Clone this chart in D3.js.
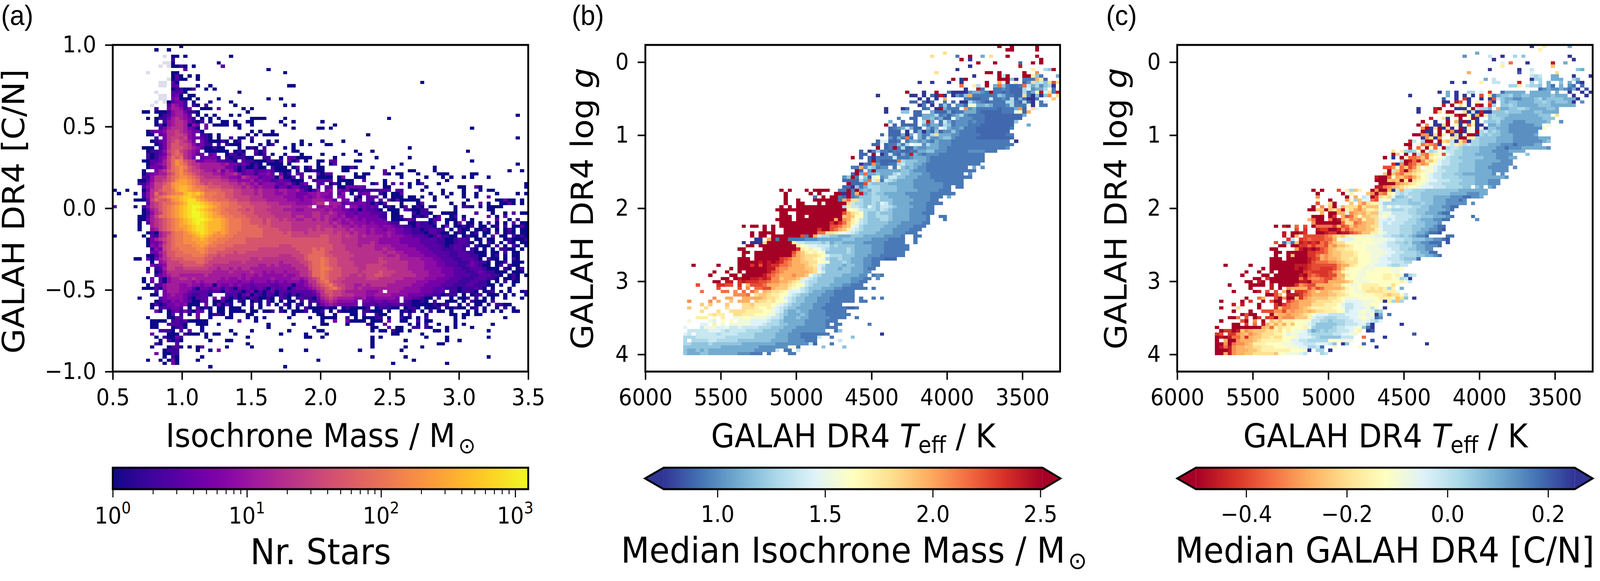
<!DOCTYPE html>
<html>
<head>
<meta charset="utf-8">
<title>GALAH DR4 isochrone mass and [C/N]</title>
<script src="https://cdn.jsdelivr.net/npm/d3@7"></script>
<style>
    html, body { margin: 0; padding: 0; background: #fff; width: 100%; height: 100%; overflow: hidden; }
    svg { display: block; width: 100vw; height: 100vh; }
    text { font-family: "DejaVu Sans", sans-serif; fill: #000; }
    .panelTag { font-family: "Liberation Sans", sans-serif; font-size: 72px; }
    .tickText { font-size: 58px; }
    .axisTitle { font-size: 83px; }
    .barTitle { font-size: 90px; }
</style>
</head>
<body>
<script>
//tick labels
var massTicks = [0.5, 1.0, 1.5, 2.0, 2.5, 3.0, 3.5],
    cnTicks = [-1.0, -0.5, 0.0, 0.5, 1.0],
    teffTicks = [6000, 5500, 5000, 4500, 4000, 3500],
    loggTicks = [0, 1, 2, 3, 4],
    countTicks = [1, 10, 100, 1000],
    barMassTicks = [1.0, 1.5, 2.0, 2.5],
    barCnTicks = [-0.4, -0.2, 0.0, 0.2];

//value read for each cell code
var countCodes = "0123456789abcdefg",
    countLevels = [1, 2, 3, 5, 8, 12, 20, 30, 50, 80, 120, 180, 270, 400, 600, 850, 1200],
    valueCodes = "abcdefghijklmnopqrstu",
    massLevels = [0.75, 0.89, 0.94, 1.01, 1.10, 1.19, 1.28, 1.37, 1.45, 1.54, 1.63, 1.72, 1.81, 1.89, 1.98, 2.07, 2.16, 2.25, 2.33, 2.42, 2.51],
    cnLevels = [0.25, 0.21, 0.18, 0.14, 0.10, 0.06, 0.03, -0.01, -0.05, -0.09, -0.12, -0.16, -0.20, -0.24, -0.27, -0.31, -0.35, -0.39, -0.42, -0.46, -0.50];

//histogram bins
var massBins = {start: 0.5, step: 0.03},
    cnBins = {start: 1.0, step: -0.02},
    teffBins = {start: 5750, step: -27.78},
    loggBins = {start: -0.235, step: 0.0447};

//each row is read left to right as pairs of start column and cell codes, "." is an empty cell
var countRows = [
"16 0",
"10 0 13 0",
"",
"14 00 17 0 28 0",
"14 1",
"14 0 25 0",
"14 0010 19 0 26 2",
"17 2 37 0",
"14 00 41 0",
"14 020 18 0 20 0",
"14 0200 20 0",
"14 20 74 0",
"14 22 20 0 23 0 42 00",
"14 011001 22 0 24 0",
"14 2220 30 0",
"14 230 18 00",
"14 34000 20 0 25 0 37 0 40 0",
"13 0233 17 1 19 0 23 0 28 0",
"13 25431 19 10 22 1 29 0 41 0 43 0",
"10 1 13 355413 21 000 25 2 31 0 33 0",
"7 00 10 00014553110 32 0",
"11 01245542 20 0 22 0 24 0 28 0 30 0 97 0",
"8 0 10 0113565431 21 0 23 0 25 0 33 0000 41 0 66 0",
"10 0 12 1456653101 23 0 26 00 29 0 32 00 40 0 43 0 50 0",
"10 02045665043 22 3 24 0000 29 00 33 0 41 0 53 0",
"11 1356665320 22 3 30 0 43 0 49 00 52 0 86 0",
"8 0233466765433 21 0 33 0 35 0 38 0",
"8 00 11 236677643 21 110 25 0 32 0 34 0 36 0000 61 0",
"10 1 12 367767433210 25 0 28 1 30 00 33 1 97 0",
"9 01236787653 21 3100010 29 01 33 0 37 0 39 0 45 0 50 0 55 0",
"10 01368877642 21 311 25 1 27 1000 35 0 37 01 43 0 45 0 47 0 51 00",
"7 000 11 1368887654200100 30 0 32 01 34 0 36 1 41 0 43 0 71 0",
"8 0112478976543 22 000000 29 010 34 20 36 2 43 00 58 0 62 0 85 0",
"8 10123689865423 23 23 27 02101 34 101 38 0 41 0 45 0 50 0 55 0 59 0",
"8 101347989653 21 2333 25 1 27 10111 32 00 36 11 40 0 42 220000 53 0 63 0 71 0",
"7 002235 13 79ba8763 21 34442211 29 0 31 2110001 38 10 40 1 42 202 46 0 49 00 52 22 58 00 86 0",
"8 0234579ba976 20 65 22 55554 27 533 30 232 33 010 37 0000 42 0 49 0 52 0 53 2 69 0 97 0",
"8 03324 13 79aba87 20 655 23 5555 27 332 30 02 32 00 34 2 35 00 38 1000 43 0 44 2 46 0 47 2 49 00 55 00 57 20 62 0 67 0 77 0",
"7 0 10 35689ab 17 98 19 77 21 6554 25 63 27 5420 31 2331 35 2232 39 0000 44 0 46 00 48 1 49 00 55 00 65 2 71 00 77 0 95 0 98 0",
"7 0234557 14 8aba98 20 7 21 6665 25 54 27 5564 31 2331 35 3342 40 301 44 22 49 2 50 0 51 22 58 0 60 00 65 20 68 00 73 0 78 000 86 00",
"7 114666 13 89abb 18 a 19 98 21 7666 25 65 27 54436 32 5442 36 333 39 05 41 00 43 2 45 2 47 2 49 0000 54 03 58 000 69 0 75 0 79 0 81 0 84 0 86 0 90 0",
"6 0024667 13 89bcc 18 ba9 21 7777 25 7665 29 5444 33 5343 37 31 39 23 41 21 43 000 48 1 49 2222 54 00 56 00 60 2 65 0 73 0 80 0",
"6 1135778 13 9bcc 17 cba 20 9 21 8787 25 7776 29 6565 33 45 35 3444 39 3234 43 102 46 3 49 22 52 0 53 2 54 0 56 00 62 02 65 0 67 2 69 2 71 0 73 02 78 0 99 0",
"7 245779 13 9bcd 17 dcb 20 aa9 23 888 26 7776 30 6 31 565 34 454 37 4 38 4133 42 133 45 110 49 1 51 22 54 00 56 3333 60 2 65 00 71 0 75 0 83 00 87 20 99 0",
"0 0 3 0 7 036 10 7899 14 acd 17 dcb 20 ba99 24 9988 28 8776 32 6656 36 5554 40 5544 44 531 47 01 49 4 51 34 54 3230011 61 111222 68 21 74 0 79 0 84 0 88 0 90 00",
"1 0 5 0 7 1 8 469 11 789ab 16 bdede 21 caaa 25 9988 29 7766 33 6565 37 5544 41 5443 45 3344 49 5 50 443 54 24 57 0 59 233 64 1 65 0 67 000 69 2 76 0 79 0 81 0 84 0 87 0 92 0 97 0 99 0",
"7 1 8 4689 12 abc 15 cdeed 20 cbaa 24 9998 28 8777 32 7666 36 5555 40 5444 44 3343 48 4 49 543 52 3 54 43 58 2 59 0 61 222 65 0 67 000 71 00 74 0 77 0 80 0 84 0 87 0 90 2",
"5 00 7 0 8 379 11 889 14 bcdef 19 fdcb 23 aa99 27 9887 31 7766 35 6655 39 5554 43 4434 47 45 49 5544 53 2 55 33 58 0 59 3 61 22 64 2 66 2 67 0 68 2 69 00000 77 0 85 0 92 0 93 020 96 0 98 0",
"8 2678 12 99ab 16 cdfff 21 edcb 25 baa9 29 9888 33 7777 37 6665 41 5554 45 4445 49 66 52 55 54 5 55 2 56 3333 60 3 61 2 62 0 63 2 64 0 65 2 69 0 73 0 74 2 81 0 84 0 88 2 90 0 93 0020 98 0",
"0 2 5 0 7 14678 12 9abc 16 defg 20 gfed 24 cbaa 28 9998 32 8877 36 7766 40 6665 44 5556 49 4454543.4423232.010.02.010.00 82 0 84 110 88 0 90 0000",
"7 0 8 2568 12 9abc 16 defg 20 fedc 24 bba9 28 9988 32 7877 36 7666 40 6555 44 44555 49 5545443323032210.000.210011 82 0 90 00",
"7 0 8 14678 12 9abc 16 defg 20 gfed 24 cbaa 28 9998 32 8877 36 7766 40 6665 44 55556 49 65565443323332221.00...10110 79 0000 87 2 91 0 94 0 96 2 98 00",
"6 00 8 2579 12 9abc 16 defg 20 gfed 24 ccba 28 a999 32 8887 36 7776 40 6665 44 66556 49 65655453343333311.001..0101.02..01 84 0 90 2 92 0 94 2",
"6 0 7 0 8 3 9 5678 13 9abc 17 defg 21 gfed 25 dcba 29 aa99 33 8887 37 8776 41 7665 45 5665 49 65654545443433332.000121...022.000.2.0 92 2 95 0 97 1",
"6 0 8 1 9 5678 13 9abc 17 defg 21 fedd 25 dcba 29 aa99 33 8887 37 8777 41 7766 45 6666 49 66656544544434333211..0021101..0.03.00 88 0 90 1.0 94 0 96 2 98 00",
"6 0 9 5678 13 9abc 17 cdef 21 fedd 25 dcba 29 aa99 33 9988 37 8777 41 7766 45 6666 49 76665655454544434432211021110.03.00101.00.01.1.0020",
"6 0 9 4578 13 9abb 17 cdef 21 fedd 25 dcba 29 aa99 33 9998 37 8887 41 7766 45 6676 49 7677666565554544344332211012211.0.100.0010.0.020.00",
"8 0 9 1 10 0 11 567 14 9aab 18 cdef 22 edcb 26 cbaa 30 9999 34 9988 38 8887 42 8777 46 677 49 77776766565545444543322111022100.010.01.00.1.010.00",
"0 0 7 0 9 2 10 1 11 568 14 9aab 18 bcde 22 dcbb 26 baa9 30 9999 34 9988 38 8888 42 8777 46 777 49 7887776766565555454443322210131100.0100.0.2.00.1010",
"8 0 9 3 10 5 11 678 14 9aab 18 bccd 22 cbba 26 aa99 30 9988 34 8888 38 8888 42 8888 46 888 49 888777666655555444443333322221 79 1001221.00.00..010001",
"8 0 9 3 10 3 11 468 14 9aab 18 bbcc 22 cbaa 26 a999 30 9988 34 8888 38 8888 42 8888 46 888 49 888777666655565444443333322221 79 10012210.0.10.0.10.00",
"8 0 9 4 10 3 11 578 14 9aaa 18 abbc 22 baa9 26 9998 30 8888 34 8888 38 8877 42 7888 46 888 49 888877766656665555444433332222 79 1012211.1000.1.0.20.0",
"9 1 10 4 11 3 12 78 14 99aa 18 aabb 22 a999 26 9888 30 8888 34 8777 38 7777 42 7788 46 889 49 8988777666666655655444443332221 80 11221.10.0.0.1100.0",
"9 3 10 3 11 5 12 68 14 899a 18 aaab 22 a998 26 8887 30 8877 34 7777 38 7777 42 7778 46 889 49 99877777666666665665544443332222 81 112211000.00.1.00",
"8 00 10 2 11 4 12 68 14 8999 18 9aaa 22 9887 26 8777 30 7777 34 7777 38 7766 42 6777 46 899 49 99887777766666666556554444333222 81 112221100.01.0.00",
"5 00 8 2 9 0 10 3 11 5 12 67 14 8889 18 9999 22 8877 26 7777 30 7776 34 6766 38 6666 42 6677 46 899 49 9a98877766666667666655555444332 80 221122210.100.0.10",
"9 0 11 4 12 57 14 7788 18 8899 22 8777 26 7766 30 6766 34 6666 38 6656 42 6667 46 789 49 9a988777766666677666665555444332 81 2211132110.001.000",
"9 32 11 3 12 47 14 7778 18 8888 22 7766 26 6666 30 6666 34 6556 38 5655 42 5666 46 789 49 9a9887777666777766666655554443 79 322211232100.01.100",
"8 0 10 1 11 2 12 57 14 7667 18 7777 22 7665 26 6656 30 5665 34 5555 38 5555 42 5566 46 689 49 9aa98877776677777666665555444433 81 322112221000.10.01",
"8 2 10 0 11 1 12 46 14 6666 18 6666 22 6655 26 5565 30 5556 34 5545 38 4554 42 5556 46 679 49 9a988877776777787776666555544433 81 32221123211000.000",
"10 1 11 3 12 45 14 6655 18 5555 22 6555 26 5555 30 5455 34 4544 38 4445 42 4456 46 679 49 9a988877667677887766666655544443 81 3222211222110.010.0",
"7 0 9 3 11 2 12 0 13 4556 17 6565 21 5555 25 5454 29 4545 33 4444 37 4544 41 4455 45 4567 49 8a988776666677766666655555444333 81 222111222110.0010.",
"7 0 9 2 11 2 12 0 13 4555 17 5545 21 4555 25 4444 29 4344 33 3444 37 3434 41 3444 45 3466 49 89a87766666666666665555544433332 81 2211122110.0.1.00",
"8 0 10 1 11 2 12 4 13 5554 17 4544 21 3440 25 4334 29 3433 33 2333 37 3223 41 3303 45 3456 49 789a8776655656666555555444333322 81 21112211100.0..0..",
"7 000 10 2 11 0 12 4 13 5554 17 4420 21 3323 25 3132 29 0323 33 2232 37 0322 41 3023 45 3345 49 6789a876656555555555544443332221 81 110111210.0...0..",
"10 1 12 3 13 5554 17 4322 21 2212 25 2032 29 2202 33 3020 37 2302 41 2122 45 2223 49 5688776555554445.55544444333222.1101110.011.0.0..01",
"9 00 12 3 13 4544 17 3211 21 220 27 2120 31 2302 35 1021 39 0210 43 2012 47 22 49 4678776665554455554444333322110111.0.011.000.0.0..0",
"6 0 11 2 12 3 13 4444 17 3102 21 22 24 3 26 3 27 1 28 0201 32 0210 36 0 37 1 38 0 40 21 42 0 44 1 45 21 47 10 49 35676555544533444443.3322100.1..0.001.1.0.0..0...0.",
"10 0 11 1 12 3 13 2434 17 3200 21 22 24 0 25 0 26 2 27 0 28 0 30 1 31 0 33 0 34 1 35 0 37 1 38 0 40 0 42 00 45 1 47 11 49 2456544443.332332333.210010.1..000.0.1000.1.......",
"9 0 10 2 11 0 12 1 13 3343 17 400 20 0 22 3 24 0 25 3 26 0 27 2 28 0 31 0 33 1 35 0 37 1 39 0 41 1 42 0 44 1 45 0 47 1 49 1345433333.222122122211000001011..0.1.00.0.1100.....",
"9 0 11 122 14 332 18 0 20 2 21 0 22 1 23 0 25 00 28 00 30 0 33 0 35 0 40 0 42 0 44 0 46 1 47 0 48 0 49 00100.0100001.011100.0110.0001.00100.01.0..0.1.0...",
"10 3 11 0 13 0 14 2 15 3 16 1 17 3 18 1 19 0 20 3 21 2 23 0 25 0 26 0 28 0 29 0 30 0 31 0 33 0 34 0 36 0 37 0 38 1 40 1 41 0 43 0 44 0 45 0 46 1 48 0 49 01.0.10000.11000.0..0101.0.1.00.0...0.0.0.0.0..00.",
"13 0 14 2 16 1 18 0 20 3 23 0 24 110 28 0 32 00 43 0 49 0 50 0 53 0 57 00 60 1 63 100 69 0 71 1 75 0 81 0 82 0 84 00 87 0 88 0",
"8 0 13 0 14 0 15 2 16 2 20 3 23 0 27 00 32 0 34 0 36 0 42 0 47 0 50 0000 56 1 58 0 60 00 62 011 66 0 69 100 73 0 75 1 82 0 84 0 94 0",
"9 0000 14 1212 18 0 19 0000 30 2 34 0 50 0 53 3 56 3 57 0000 62 000 66 3 69 00 73 1 75 00 82 0",
"9 00 13 1 14 2 15 2 16 1 17 0 20 000 25 0 37 0 43 0 50 00 56 0 61 1 62 0 65 2 71 0 73 0 75 1 78 0 82 0 84 0 91 0",
"9 00 14 01 16 2 17 0 21 0 37 0 48 0 62 00 66 2 68 00 72 11 75 10 80 0 82 0 86 0",
"11 1110 16 2 18 2 21 0 28 0 33 0 42 0 49 00 62 0 64 00 67 100 71 0 77 00 80 0 90 0",
"9 3 13 00 15 0 17 1 18 000 22 0 24 00 29 0 40 0 46 0 51 0 67 00 74 0",
"10 0 12 100 15 3 16 1 22 0 32 0 46 00 50 0 62 0 64 0 75 0 80 0 90 0",
"11 0 13 10 15 1 16 0 23 0 27 00 62 0 70 0 80 0 83 0",
"10 10 15 2 32 0 62 0 78 00",
"9 0 13 012 16 0 18 0 20 02 27 0 33 0 62 0 70 0 74 0",
"12 0111 20 0 23 0 25 3 40 0 46 0 59 0 69 0",
"10 3 12 0011",
"12 0 14 10 21 0 62 0 70 0 90 0",
"8 0 11 0 13 030 20 0 49 0 72 0",
"12 0 14 30 67 0 80 0",
"23 0 41 0"
];

//faint patch at the top of the first panel, [column, row]
var faintCells = [[12,3],[12,5],[13,5],[11,6],[13,6],[8,8],[13,10],[11,11],[12,11],[11,12],[12,12],[10,14],[11,15],[12,15],[11,16],[12,16],[10,17],[12,17],[9,18]];

var massRows = [
"75 u 78 u 84 u",
"77 uu 84 u",
"62 m",
"59 m 65 c 68 u 71 e 73 m 77 u 84 u",
"66 u 68 a 85 u",
"70 u 74 u 80 b 83 u 85 u",
"68 a 80 t",
"65 a 83 l 86 gf 88 u",
"60 m 72 uu 75 u 81 u 84 p",
"69 a 75 u 76 h 77 u 81 uu 83 l 84 f 85 c 89 e",
"64 u 66 a 67 u 75 uuu 78 f 79 a 81 ccc 84 o 85 l 86 b",
"56 a 59 a 63 a 66 a 72 u 75 o 77 u 79 l 81 b 82 d 83 m 84 g 85 h 86 f 87 m 88 r 89 m",
"66 q 69 l 70 g 72 u 74 e 75 q 76 f 77 cbbc 81 q 82 h 83 e 84 g 85 d 86 f 87 g 88 a",
"67 a 70 t 71 c 74 ccdcbbb 81 g 82 i 83 d 84 e 85 e 86 g 88 c",
"53 u 57 a 60 u 63 c 64 aaaa 68 deedc 73 u 74 ccbcbbb 81 g 82 c 83 e 84 k 85 t 86 i 87 m 88 c 89 t",
"46 a 54 aa 57 a 59 ba 61 t 62 a 64 a 65 d 66 b 67 f 68 o 69 cccccc 75 fe 77 ccbb 81 m 82 c 83 a 84 f 85 a 86 f 87 p 89 m",
"56 a 58 a 60 a 62 o 67 ccbbcchccdcgbebaac 88 n",
"54 bb 57 bab 62 c 64 b 66 aa 68 gedcbccccggcbgba 85 c 86 i",
"56 a 57 c 59 a 61 bfc 65 ddb 68 jjeefecccdgcccja 85 cc",
"48 a 52 ab 57 bc 60 a 61 u 62 e 63 ccc 67 p 68 decccccbccc 79 epb 83 mi",
"48 a 52 ff 55 bb 59 e 60 bbbe 64 bcc 67 eee 70 cbbbbbccc 79 ik 81 b 82 o",
"55 bb 57 eee 60 gcdbdeg 67 dccccbbbbbbbbb 81 e",
"51 c 54 bb 57 eef 60 debb 65 edddcccbbbbbbbbb",
"49 e 52 b 55 b 57 gte 61 che 64 cddd 68 cdccbbbbbbb 79 f",
"48 u 50 b 52 bbbb 57 ec 59 eec 62 gfc 65 dddcccbbbbbbbb 82 e",
"49 bcdehebb 58 ece 62 heddeccc 70 bbbbbbbb 78 c",
"49 bbb 53 a 55 beadbfbddfdcccc 70 bbbbbbbb",
"47 bj 49 bbb 52 eae 56 ecdg 60 meeed 65 dcccccbbbbbbcc",
"49 dbecqc 56 ecgddeffd 65 cccccbbbbbbbbb",
"46 b 47 ii 49 bbc 53 ceededceddd 64 cccccccccccccc 79 a",
"45 bb 48 bccfcg 55 ii 57 dgeedd 63 d 64 ccccccccccccccc",
"46 u 48 bcucg 53 bbe 56 ddeeed 62 dcccccccccccccc 77 d",
"42 b 44 acfccbccbbcceeffd 61 ddcccccddddccc",
"42 bb 45 u 47 achcbect 55 edcdddccccccccccc",
"40 u 42 b 44 bacccchcccdeeed 59 ccccccccccccc",
"44 bucbbbbqgfffeedc 59 ccccccccccccc",
"42 acbpd 47 bbcc 51 ghffeed 58 ccccccccccccc",
"40 cc 42 odgfc 47 dd 50 cjfefe 56 ddcccccccccc 69 e 71 d",
"41 ubidu 46 eeeeee 52 ffeddd 58 cccccccccccc",
"40 bueqeefeeegh 52 ffeeeddcccccccc 68 d",
"38 dfucifbikdehhffeeedddcccccccccc",
"38 bbbbgeqimchg 50 feeeedddd 59 dccccccc",
"39 ubbbrgffffe 50 eeeeedddd 59 dddccccc",
"38 bbafce 44 gggffffeeeedddddd 61 dcc 65 cc",
"23 u 25 u 29 u 31 uuuu 37 ccucue 43 feggffffeeeeedddddccc",
"24 u 30 u 32 u 36 uu 38 aucote 44 fgffeeeeeddddddcccccc",
"24 u 31 c 33 u 35 uu 37 cbucd 42 fffggffeeeeedddddccc 63 e",
"24 u 27 u 31 uuuuuu 37 coqmm 42 gffggfffeeeeeddddcc",
"24 u 27 uu 32 u 34 uuuuu 39 mhggffgfihfeeeeddddccc 61 c",
"23 u 25 u 27 uuuuuuuuuuu 38 glhhgfigfhhgfeeeedddcc",
"22 uuuuu 27 uuuuuuuuuuuu 39 kkjhgggfhgfeeeeddddcc",
"23 uu 27 uuuuuuuuuuu 38 romlkgffgfffeeeedddccc",
"23 uuu 27 uu 30 uuuuuuuu 38 nonkkgffgggfeeeeddddc 61 cc",
"22 uuuu 27 uuuuuuuuu 36 ou 38 polkhgfffggfeeeeddddc 62 c",
"23 uuuuuuuuuuuu 35 susqnljhgfffffeeedddddcc",
"14 u 16 uu 19 u 21 u 23 uuuuuuuuuuuu 35 rrqonjigfffffeeeddddccc",
"19 u 21 u 24 uuuuuuuu 32 suurqonlihgffffeeeddddccc",
"16 u 18 uuuu 24 uuuuuuuu 32 qqmmljjihgffffeeeedddccc",
"16 u 18 uu 21 uuuuuuu 28 rcuohggffeeefffeeeeeddddc 55 cc",
"17 aa 20 ouc 23 uu 25 ccccddde 33 eeeeefffeeeeddddcccc 55 c",
"14 a 16 aaa 19 m 20 uuuuuu 26 lhhggg 32 gfgeffeeeeedddddccccc 55 c",
"15 uu 18 uuuuuuuuu 27 lkjiihhh 35 fgffffeeeedddcccccc",
"13 uu 19 uuuuuuuu 27 slkljjhg 35 ffffgfeeeedddcccccc",
"14 uu 17 uuuuuuuuu 26 ronlklkjf 35 ffffgfeeeedddccccc",
"14 u 17 uuuuuuuuu 26 qonmmmlkig 36 ggfffeeedddcccccc",
"13 uuu 17 uuuuu 22 usrqoonmmlkjg 35 ffgffeeeddcccbbb",
"13 uuuu 17 ututu 22 tsqpoonnmmkkj 35 fffgfeeeddcc",
"2 u 8 u 13 uuusurutssqqpooonmlihf 35 fffeffeeddcc",
"11 u 13 uuuuuuu 20 ttqppoooonnmigf 35 ffeffeeedcc",
"7 u 10 u 13 u 15 uuuuu 20 trqpoooooonmjhg 34 ffffffeeedd",
"6 u 11 uu 14 uuuuu 19 trqpooopoonjhg 33 fffffeeeedd 45 cdc",
"9 uu 12 utuuttstsppp 23 nooonlihg 32 ffffeeeedddcc 46 d",
"7 uu 10 t 11 t 13 stsssrrqppoonmlihgg 32 ffffeeeeddcc",
"3 r 8 ssrr 13 s 15 orrr 19 qooonnmlkkh 30 gffffeeeddccc",
"8 r 13 r 15 p 17 qqrronnnljjhg 30 fffeeeddccccc 43 c 45 c",
"4 q 9 qq 12 p 14 q 16 qo 19 onmmlkiiihg 30 feeeddccccc",
"12 pppq 17 mnnmllkkihgf 29 feeedddccccc",
"7 p 10 oo 14 ooooonmmlkihg 27 ffeeedddcccccc 42 c 45 c 47 c",
"1 p 6 p 8 o 11 n 13 ooo 17 nmmlmkkjhgf 28 feeedddcccccc 42 cc",
"4 n 6 n 10 n 14 mmnllllkjihgf 27 feeedddcccc",
"1 n 5 m 10 m 14 mmmlkkljihgf 26 feeeeddccccccbbc",
"4 m 8 m 11 mmmmllllkkjih 24 feefeeddddccccc",
"6 lml 9 l 12 mmlllkkkjjhg 24 feeefeddddcccccc",
"3 lll 7 k 9 l 12 jjkkjjjjihhg 24 eeefeedddddcccc 41 c",
"1 j 6 ji 9 k 11 k 13 jjjiiiihggf 24 eeeeedddddccc",
"4 ii 7 l 9 j 11 jjjjjiiihgggff 25 eeeedddddc 36 cc 44 c",
"0 i 4 hjjj 8 iij 11 hhihhhhgggfff 24 eeedddddddccc",
"1 hhhhhiiihghhhh 15 ggggffffeeedddddddd 36 c 37 f",
"0 ih 3 hhhhhghhhhgg 15 ggfffffeeedddccccccc 47 a",
"0 ggghhhhhhh 10 gggggggff 19 fffeeedddcccc 32 h 35 c 40 f",
"0 g 2 gggghhg 8 gggggffffffffeeeeddddccc 37 h",
"0 ggffffgfffffffeeeeeeeedddddddd 30 hb 35 c",
"0 fffffffffeeeeeeeeedddddddd 25 jj 27 c 33 f 38 f",
"0 feefefeeeeeeeeeeedddddd 22 h 24 cc 27 h",
"0 feeeffeeeeeeedddccc 20 c 25 cc"
];

var cnRows = [
"75 a 78 l 84 e",
"77 l",
"62 e",
"59 d 65 h 68 a 71 g 73 f 84 a",
"66 a 85 a",
"70 q 74 a 68 i 80 t 83 e",
"68 l 80 n",
"65 a 72 a 75 h 86 fe",
"60 o 72 b 75 i 81 m",
"75 hgh 80 ee 85 a 89 a",
"64 e 66 h 75 agg 80 eee 85 ge",
"56 a 59 a 63 l 66 hh 72 t 75 g 77 g 79 e 82 f 84 e 86 c 87 a",
"70 gg 72 l 74 h 75 gg 77 f 79 e 80 c 82 e 84 d 85 c 87 c",
"77 c 78 d 79 e 80 d 81 d 82 e 83 d 84 c 85 e 86 a 88 b",
"53 a 55 e 57 a 60 gg 63 i 65 s 68 c 69 eeeee 75 eeeee 81 e 84 a 87 a 89 a",
"46 a 55 e 57 a 59 a 61 a 63 r 65 m 66 c 67 eff 70 gee 73 ffee 77 eeef 81 ee 83 e 85 a 88 a",
"54 b 57 a 59 s 60 a 63 a 65 a 66 r 67 h 68 feeddeee 76 fgeffffe 84 ee 86 a",
"54 aa 57 t 58 r 60 a 62 l 65 q 66 a 68 feffeeeeffgfefff 84 e 85 a 87 d",
"54 t 56 u 58 m 60 a 62 t 63 u 65 s 66 g 68 ffgfeeeeefffeeee 84 e 85 e",
"48 a 52 tu 57 aa 59 a 60 k 61 u 62 h 63 gge 67 o 68 eeffggfeeee 79 f 80 f 81 e",
"48 a 52 tm 55 uu 59 m 60 aha 63 t 64 aaf 67 ffg 70 fffeeeffe 79 eee",
"55 kj 57 tuu 60 kaou 64 l 65 f 66 g 67 fffeeeeeeefff 81 m",
"51 t 54 ma 57 j 58 u 60 k 61 u 62 a 65 fgg 68 feeeeeeeeefff",
"49 u 52 a 55 u 57 oau 60 a 61 ka 64 g 65 ffgeeedddeeeeef 82 d",
"48 u 50 p 52 aamu 57 ka 60 q 61 l 62 aa 65 eefeeddddddee 79 j",
"49 p 50 u 51 a 52 m 53 u 54 a 55 ma 58 uaj 62 ajaf 66 feeedddddddd 78 k",
"49 uaa 53 u 55 upaua 60 k 62 u 63 ghfg 67 feeddddddd",
"47 uu 49 ppa 52 mul 56 ama 59 j 60 uua 63 g 64 fgffeeeddddde",
"49 apma 53 p 56 m 57 h 58 uu 60 ll 62 gfff 66 feeeeddddddeee",
"46 t 47 h 49 guu 53 u 54 mn 56 h 57 a 58 mpa 61 ggfff 66 feeeeddddddde 79 f",
"45 uu 48 jqo 51 p 52 qa 55 jh 57 lm 59 ghgg 63 ffeeedddcddddee",
"46 t 48 qjukq 53 jug 56 hhgfff 62 feeeeddcdddeeeeee 79 d",
"42 m 44 lgfgj 49 ujgh 53 ji 55 hhggf 60 fffeeeddddeeee",
"42 un 45 u 47 thpq 51 mlj 54 r 55 ihgg 59 fffeeeeedddd 74 f",
"40 u 42 a 44 ukqq 48 pnq 51 lkji 55 hgg 58 ffffffeeedddee",
"44 gutq 48 tpmnl 53 ihh 56 gggfffeeeeeeddd",
"42 sapur 47 qnpo 51 kjihhg 57 gffffeeeeddddd",
"40 rr 42 pkqnr 47 pm 50 kjihg 55 gggffffeeedddd 69 d 71 d",
"41 uhnqu 46 pnmljk 52 ihhggg 58 ffffeeeedddd",
"40 nunpqnnmlkj 51 ihhg 55 ggffeeeeeeed 68 d",
"38 tuuqkonpqomkjih 53 hggggffffeeeeeeed",
"38 uuunonulumlk 50 jiihhhggg 59 fffeeeddd",
"39 uuuupo 45 nmlkji 51 hhhggggff 60 ffeeedd 66 dd",
"38 ttqpon 44 mlkkjiiihhhggggff 62 fe 65 ed",
"23 u 25 u 29 r 31 lgnl 37 upuuoam 43 hohhgggffffffffeeeeeee",
"24 u 30 u 32 l 36 npupqlkhg 45 hgggfffffffeeeedddee",
"24 p 31 u 33 o 35 hiurmlmiffghgg 49 fffeeeedddccddd 63 e",
"24 l 27 u 31 pkgnii 37 qrikj 42 fgggfggfffeeedddcd",
"24 r 27 mu 32 n 34 npmll 39 iggggggfffgffeeeddddd 61 d",
"23 u 25 p 27 nuiommmpmnn 38 njhkhihhhggffeeeddcc",
"22 uunnu 27 nmotlmopnllm 39 jhhggghggfffeeeedc",
"25 o 27 uu 29 ooipon 35 omnnijjhhhhggffeeedcc",
"23 uuu 27 us 30 orqnknnmmjki 42 ihhhhggfffeeedc 61 c",
"22 oquu 27 qutompopl 36 nnmiihihhhggfeeeddcc 62 d",
"23 puuuuuu 30 qmmqponnmihihhhgggffeeed",
"14 u 16 tu 19 q 21 r 23 uqqqqsorqnpoonmmihhhhgggfffeedcc",
"19 r 21 s 24 tssuutprpooonnljhhhhgggffeeddcb",
"16 t 18 uuts 24 uutssuttrqpnnlljihhhgggfeedccb",
"16 t 18 uo 21 rrrrrqp 28 nmnlkkkjjjiihhggfgfeddc 55 cc",
"17 sh 20 srqrrrqqoki 31 iikkkkjjjjiihhggfffeeddcc 55 b",
"14 r 16 cgcn 20 tstst 25 qrpnmmkkkjkkkjjihhggfgeeddccc 55 b",
"15 uu 18 uu 20 ssqsqqropnnmlkkkjjjiihhhgggfeedddc",
"13 uu 19 ptutu 24 trqonmmllkkkjjjjiihhggffeedd",
"14 uu 17 uuuuu 22 ssrrqonnmmmlkkkjjjjiihhgggfeecc",
"14 u 17 unuuu 22 ssqopon 29 nmmmlkkkjjjiihhggggffeedc",
"13 uuu 17 uuuuu 22 tsropoo 29 nmmlmkkkjjiihhhgfffc",
"13 uuuu 17 uuuuu 22 trqqqppo 30 nmmmkkkjjiiihhhgg",
"2 u 8 u 13 uuuuuu 19 tttsrrrrrrpoomlkkjjiiihgghh",
"11 u 13 uuuuuu 19 tutsrrsssrpnlkkkjjjkkkkjjk",
"7 u 10 u 13 u 15 uuuuu 20 usrssssrpolkkkjjkkkkkkjj",
"6 u 11 uu 14 uuuuuu 20 turqrssrroolkkjjkkkkllklj 45 cgh",
"9 uu 12 s 13 uuuuuuu 20 qtqppqrrpon 31 kkjjkkkkkllkjgh 46 a",
"7 uu 10 tu 13 uuuuuuu 20 ttuqqqroooonmkjjjkkkkkkkljh",
"3 u 8 uuuu 13 t 15 uuuu 19 spqrroooonnl 31 kjjkllllkkkmk",
"8 u 13 t 15 u 17 poooorprqoooonlkjkllmlmlkh 41 gl 44 e",
"4 u 9 ut 12 r 14 r 16 ou 19 ssrpomoonmml 31 kkjjlmmmmlllj",
"12 uu 14 ro 17 tttsqpoooonnmml 32 kkkjkkllmnmmkh",
"7 u 10 qo 14 rupuunspo 23 nnnnmmlkj 32 jjkkkkkllllnmh 42 k 45 f 47 a",
"1 u 6 u 8 s 11 u 13 ruu 17 sqpooonmmmmllki 32 iiijjjkkkllmg 40 a 42 gn",
"4 t 6 t 10 u 14 sus 17 qppooommmlllk 30 ihhiijjkk",
"1 u 5 m 10 u 14 snqqppo 21 nmlllllkkj 31 hhiiijkk 37 hk 40 a",
"4 u 8 u 11 rrr 14 ppropoononmmlllkkjjh 31 hiijkjikg 38 f",
"6 uru 9 u 13 unoopoonmlkiiihhhhii 33 ijjiih 37 k 38 ae 41 c",
"3 uuq 7 r 9 us 12 sruoppp 19 nnnlihhggghhhi 33 ijkjig 38 cd",
"1 u 6 ru 9 p 11 u 13 nmn 16 lllk 20 kkjhhggfggghhiijihgi",
"4 uu 7 s 9 q 11 to 13 momoln 19 kkjihfffffgghhhii 36 fa 44 a",
"0 u 4 uuuuuuu 11 onqlm 16 llkkk 21 ljgffffghhiijkfca",
"1 ussutnponnnm 13 mlmkl 18 kjjigefgfgghhhikl 36 ab",
"0 sr 3 sspo 7 npo 10 nmmmllkijjiihgggg 27 ghhiijj 47 b",
"0 utut 4 qqosonnmml 14 mmkkkjiiihgfffffhh 32 h 35 q 40 a",
"0 u 2 ouup 6 ooonm 11 lllllkkiihhg 23 ggggkkkjjj 37 b",
"0 uupuqppon 9 lllkkkkjjjiihhhiiihf 30 af 35 c 50 a",
"0 utqtpoonn 9 mmlllkkkjjjiigg 24 h 25 c 28 k 34 k 38 a",
"0 uuutpooonnmlllllllk 18 kkkjj 22 a 24 g 25 g 27 a",
"0 uuotpoonnmmmmmnk 16 kjjjih 25 gh"
];

//colormaps
var plasma = d3.scaleSequentialLog(d3.interpolatePlasma).domain([1, 1250]);
var rdylbuStops = ["#313695", "#4575b4", "#74add1", "#abd9e9", "#e0f3f8", "#ffffbf", "#fee090", "#fdae61", "#f46d43", "#d73027", "#a50026"];
var massColor = d3.scaleLinear()
    .domain(d3.range(11).map(function(i) { return 0.75 + i * 0.176; }))
    .range(rdylbuStops);
var cnColor = d3.scaleLinear()
    .domain(d3.range(11).map(function(i) { return -0.5 + i * 0.075; }))
    .range(rdylbuStops.slice().reverse());

//begin script when window loads
window.onload = drawFigure();

function parseRows(rows, codes, levels) {
    var cells = [];
    rows.forEach(function(row, j) {
        var parts = row.split(" ").filter(function(p) { return p.length > 0; });
        for (var n = 0; n + 1 < parts.length; n += 2) {
            var start = +parts[n];
            parts[n + 1].split("").forEach(function(code, c) {
                var level = codes.indexOf(code);
                if (level >= 0 && start + c < 100) cells.push({col: start + c, row: j, value: levels[level]});
            });
        }
    });
    return cells;
}

function drawFigure() {
    var width = 4371,
        height = 1487;

    //the figure always fills the whole window
    var svg = d3.select("body")
        .append("svg")
        .attr("viewBox", "0 0 " + width + " " + height)
        .attr("preserveAspectRatio", "none");

    var defs = svg.append("defs");

    var top = 115,
        bottom = 951;

    //panel (a)
    var xMass = d3.scaleLinear().domain([0.5, 3.5]).range([308, 1443]),
        yCn = d3.scaleLinear().domain([-1, 1]).range([bottom, top]);
    var a = svg.append("g").attr("class", "panelA");
    drawFaint(a, xMass, yCn);
    drawCells(a, parseRows(countRows, countCodes, countLevels), xMass, yCn, massBins, cnBins, plasma);
    drawFrame(a, xMass, yCn, massTicks, cnTicks, d3.format(".1f"), d3.format(".1f"));

    //panel (b)
    var xTeffB = d3.scaleLinear().domain([6000, 3250]).range([1763, 2896]),
        yLogg = d3.scaleLinear().domain([-0.235, 4.235]).range([top, bottom]);
    var b = svg.append("g").attr("class", "panelB");
    drawCells(b, parseRows(massRows, valueCodes, massLevels), xTeffB, yLogg, teffBins, loggBins, massColor);
    drawFrame(b, xTeffB, yLogg, teffTicks, loggTicks, d3.format("d"), d3.format("d"));

    //panel (c)
    var xTeffC = d3.scaleLinear().domain([6000, 3250]).range([3216, 4351]);
    var c = svg.append("g").attr("class", "panelC");
    drawCells(c, parseRows(cnRows, valueCodes, cnLevels), xTeffC, yLogg, teffBins, loggBins, cnColor);
    drawFrame(c, xTeffC, yLogg, teffTicks, loggTicks, d3.format("d"), d3.format("d"));

    //panel letters
    svg.append("text").attr("class", "panelTag").attr("x", 3).attr("y", 64).text("(a)");
    svg.append("text").attr("class", "panelTag").attr("x", 1562).attr("y", 64).text("(b)");
    svg.append("text").attr("class", "panelTag").attr("x", 3022).attr("y", 64).text("(c)");

    //y axis titles
    yTitle(svg, 66, 541).text("GALAH DR4 [C/N]");
    var yb = yTitle(svg, 1620, 534);
    yb.append("tspan").text("GALAH DR4 log ");
    yb.append("tspan").attr("font-style", "italic").text("g");
    var yc = yTitle(svg, 3078, 534);
    yc.append("tspan").text("GALAH DR4 log ");
    yc.append("tspan").attr("font-style", "italic").text("g");

    //x axis titles
    var xa = svg.append("text").attr("class", "axisTitle").attr("text-anchor", "middle").attr("x", 876).attr("y", 1144);
    xa.append("tspan").text("Isochrone Mass / M");
    solarSub(xa);
    teffTitle(svg, 2331);
    teffTitle(svg, 3785);

    //colourbars
    logBar(svg, defs);
    linearBar(svg, defs, "massGrad", d3.scaleLinear().domain([0.75, 2.51]).range([1813, 2848]), massColor, barMassTicks, d3.format(".1f"), 1762, 2897);
    linearBar(svg, defs, "cnGrad", d3.scaleLinear().domain([-0.5, 0.253]).range([3267, 4302]), cnColor, barCnTicks, function(d) { return d3.format(".1f")(d).replace("-", "\u2212"); }, 3216, 4351);

    svg.append("text").attr("class", "barTitle").attr("text-anchor", "middle").attr("x", 876).attr("y", 1444).text("Nr. Stars");
    var tb = svg.append("text").attr("class", "barTitle").attr("text-anchor", "middle").attr("x", 2333).attr("y", 1440);
    tb.append("tspan").text("Median Isochrone Mass / M");
    solarSub(tb);
    svg.append("text").attr("class", "barTitle").attr("text-anchor", "middle").attr("x", 3783).attr("y", 1440).text("Median GALAH DR4 [C/N]");
}

function drawFaint(g, x, y) {
    g.append("g").selectAll("rect")
        .data(faintCells)
        .enter()
        .append("rect")
        .attr("x", function(d) { return x(massBins.start + d[0] * massBins.step); })
        .attr("y", function(d) { return y(cnBins.start + d[1] * cnBins.step); })
        .attr("width", x(massBins.step) - x(0))
        .attr("height", y(cnBins.step) - y(0))
        .attr("fill", "#dcdcec");
}

function drawCells(g, cells, x, y, xBins, yBins, color) {
    g.append("g")
        .attr("shape-rendering", "crispEdges")
        .selectAll("rect")
        .data(cells)
        .enter()
        .append("rect")
        .attr("x", function(d) { return Math.min(x(xBins.start + d.col * xBins.step), x(xBins.start + (d.col + 1) * xBins.step)); })
        .attr("y", function(d) { return Math.min(y(yBins.start + d.row * yBins.step), y(yBins.start + (d.row + 1) * yBins.step)); })
        .attr("width", Math.abs(x(xBins.step) - x(0)))
        .attr("height", Math.abs(y(yBins.step) - y(0)))
        .attr("fill", function(d) { return color(d.value); });
}

function drawFrame(g, x, y, xTicks, yTicks, xFormat, yFormat) {
    var xr = x.range(),
        yr = y.range(),
        yBottom = Math.max(yr[0], yr[1]),
        yTop = Math.min(yr[0], yr[1]);

    var minus = function(f) { return function(d) { return f(d).replace("-", "\u2212"); }; };

    var bottomAxis = g.append("g")
        .attr("transform", "translate(0," + yBottom + ")")
        .call(d3.axisBottom(x).tickValues(xTicks).tickFormat(xFormat).tickSize(21).tickPadding(24));
    var leftAxis = g.append("g")
        .attr("transform", "translate(" + xr[0] + ",0)")
        .call(d3.axisLeft(y).tickValues(yTicks).tickFormat(minus(yFormat)).tickSize(21).tickPadding(24));

    [bottomAxis, leftAxis].forEach(function(ax) {
        ax.select(".domain").remove();
        ax.selectAll("line").attr("stroke", "#000").attr("stroke-width", 4);
        ax.selectAll("text").attr("class", "tickText").attr("fill", "#000");
        ax.attr("font-size", null).attr("font-family", null);
    });

    g.append("rect")
        .attr("x", xr[0])
        .attr("y", yTop)
        .attr("width", xr[1] - xr[0])
        .attr("height", yBottom - yTop)
        .attr("fill", "none")
        .attr("stroke", "#000")
        .attr("stroke-width", 5);
}

function yTitle(svg, x, y) {
    return svg.append("text")
        .attr("class", "axisTitle")
        .attr("text-anchor", "middle")
        .attr("transform", "translate(" + x + "," + y + ") rotate(-90)");
}

function solarSub(text) {
    text.append("tspan").attr("dy", 16).attr("dx", 8).attr("font-size", "68%").text("\u2299");
}

function teffTitle(svg, x) {
    var t = svg.append("text").attr("class", "axisTitle").attr("text-anchor", "middle").attr("x", x).attr("y", 1145);
    t.append("tspan").text("GALAH DR4 ");
    t.append("tspan").attr("font-style", "italic").text("T");
    t.append("tspan").attr("dy", 14).attr("font-size", "70%").text("eff");
    t.append("tspan").attr("dy", -14).text(" / K");
}

function gradient(defs, id, scaleBar, color) {
    var d = scaleBar.domain();
    var grad = defs.append("linearGradient").attr("id", id);
    d3.range(0, 1.0001, 0.02).forEach(function(t) {
        var v = d[0] + t * (d[1] - d[0]);
        grad.append("stop").attr("offset", t).attr("stop-color", color(v));
    });
}

function logBar(svg, defs) {
    var x = d3.scaleLog().domain([1, 1250]).range([308, 1443]),
        y0 = 1197,
        y1 = 1252;

    var grad = defs.append("linearGradient").attr("id", "countGrad");
    d3.range(0, 1.0001, 0.02).forEach(function(t) {
        grad.append("stop").attr("offset", t).attr("stop-color", d3.interpolatePlasma(t));
    });

    svg.append("rect").attr("x", 308).attr("y", y0).attr("width", 1135).attr("height", y1 - y0)
        .attr("fill", "url(#countGrad)").attr("stroke", "#000").attr("stroke-width", 5);

    var minor = [];
    [1, 10, 100, 1000].forEach(function(p) {
        d3.range(2, 10).forEach(function(m) { if (p * m <= 1250) minor.push(p * m); });
    });
    svg.append("g").selectAll("line").data(minor).enter().append("line")
        .attr("x1", x).attr("x2", x).attr("y1", y1).attr("y2", y1 + 13)
        .attr("stroke", "#000").attr("stroke-width", 2.5);

    var axis = svg.append("g")
        .attr("transform", "translate(0," + y1 + ")")
        .call(d3.axisBottom(x).tickValues(countTicks).tickFormat("").tickSize(21));
    axis.select(".domain").remove();
    axis.selectAll("line").attr("stroke", "#000").attr("stroke-width", 3);

    countTicks.forEach(function(v, i) {
        var t = svg.append("text").attr("class", "tickText").attr("text-anchor", "middle").attr("x", x(v)).attr("y", 1340);
        t.append("tspan").text("10");
        t.append("tspan").attr("dy", -26).attr("font-size", "70%").text(i);
    });
}

function linearBar(svg, defs, id, x, color, ticks, format, tipLeft, tipRight) {
    var y0 = 1197,
        y1 = 1252,
        ym = (y0 + y1) / 2,
        r = x.range();

    gradient(defs, id, x, color);

    var d = x.domain();
    //extend tips in the end colours
    svg.append("polygon")
        .attr("points", [[r[0], y0], [tipLeft, ym], [r[0], y1]].join(" "))
        .attr("fill", color(d[0]));
    svg.append("polygon")
        .attr("points", [[r[1], y0], [tipRight, ym], [r[1], y1]].join(" "))
        .attr("fill", color(d[1]));
    svg.append("rect").attr("x", r[0]).attr("y", y0).attr("width", r[1] - r[0]).attr("height", y1 - y0)
        .attr("fill", "url(#" + id + ")");
    svg.append("polygon")
        .attr("points", [[r[0], y0], [r[1], y0], [tipRight, ym], [r[1], y1], [r[0], y1], [tipLeft, ym]].join(" "))
        .attr("fill", "none").attr("stroke", "#000").attr("stroke-width", 5);

    var axis = svg.append("g")
        .attr("transform", "translate(0," + y1 + ")")
        .call(d3.axisBottom(x).tickValues(ticks).tickFormat(format).tickSize(21).tickPadding(22));
    axis.select(".domain").remove();
    axis.attr("font-size", null).attr("font-family", null);
    axis.selectAll("line").attr("stroke", "#000").attr("stroke-width", 3);
    axis.selectAll("text").attr("class", "tickText").attr("fill", "#000");
}
</script>
</body>
</html>
